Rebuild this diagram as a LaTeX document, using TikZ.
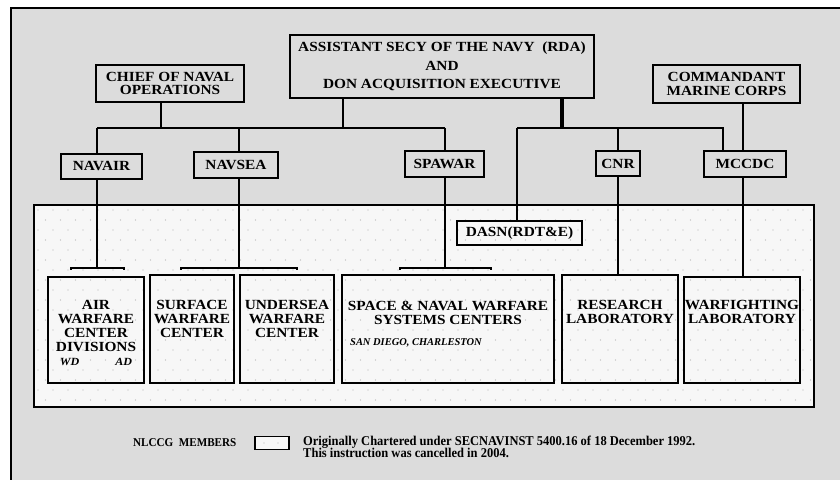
\documentclass[tikz,border=0pt]{standalone}
\usepackage{fontspec}
\setmainfont{Liberation Serif}
\newfontfamily\widefont{Liberation Serif}[FakeStretch=1.1]
\newfontfamily\narrowfont{Liberation Serif}[FakeStretch=0.93]
\definecolor{paneback}{HTML}{DCDCDC}
\definecolor{dotback}{HTML}{F7F7F7}
\definecolor{dotgray}{HTML}{B4B4B4}
\tikzset{
  orgbox/.style={draw, line width=1.6bp, fill=paneback, inner sep=0pt, align=center,
    font=\widefont\bfseries\fontsize{14}{13.5}\selectfont},
  labbox/.style={draw, line width=1.6bp, inner sep=0pt},
  labtext/.style={anchor=north, inner sep=0pt, align=center,
    font=\widefont\bfseries\fontsize{14}{14}\selectfont},
  link/.style={line width=1.4bp},
}

\begin{document}
\begin{tikzpicture}[x=1bp, y=-1bp]
        \useasboundingbox (0,0) rectangle (840,480);
        \clip (0,0) rectangle (840,480);
        \fill[white] (0,0) rectangle (840,480);
        \filldraw[fill=paneback, line width=2.2bp] (11,8) rectangle (860,500);
        % dotted member area
        \fill[dotback] (34,205) rectangle (814,407);
        \foreach \row in {0,...,19} {
            \foreach \col in {0,...,51} {
                \fill[dotgray] ({38+\col*15+mod(\row,2)*7.5}, {210+\row*10}) circle (0.7);
            }
        }
        \draw[line width=1.6bp] (34,205) rectangle (814,407);

        % top of the chart
        \node[orgbox, minimum width=304bp, minimum height=63bp] (asn) at (442,66.5)
            {ASSISTANT SECY OF THE NAVY~~(RDA)\\[5bp]AND\\[5bp]DON ACQUISITION EXECUTIVE};
        \node[orgbox, minimum width=148bp, minimum height=37bp] (cno) at (170,83.5) {CHIEF OF NAVAL\\OPERATIONS};
        \node[orgbox, minimum width=147bp, minimum height=38bp] (cmc) at (726.5,84) {COMMANDANT\\MARINE CORPS};
        \node[orgbox, minimum width=81bp, minimum height=25bp] (navair) at (101.5,166.5) {NAVAIR};
        \node[orgbox, minimum width=84bp, minimum height=26bp] (navsea) at (236,165) {NAVSEA};
        \node[orgbox, minimum width=79bp, minimum height=26bp] (spawar) at (444.5,164) {SPAWAR};
        \node[orgbox, minimum width=44bp, minimum height=25bp] (cnr) at (618,163.5) {CNR};
        \node[orgbox, minimum width=82bp, minimum height=26bp] (mccdc) at (745,164) {MCCDC};
        \node[orgbox, fill=none, minimum width=125bp, minimum height=24bp] (dasn) at (519.5,233) {DASN(RDT\&E)};

        % member boxes
        \node[labbox, minimum width=96bp, minimum height=106bp] (awc) at (96,330) {};
        \node[labbox, minimum width=84bp, minimum height=108bp] (swc) at (192,329) {};
        \node[labbox, minimum width=94bp, minimum height=108bp] (uwc) at (287,329) {};
        \node[labbox, minimum width=212bp, minimum height=108bp] (spc) at (448,329) {};
        \node[labbox, minimum width=116bp, minimum height=108bp] (rl) at (620,329) {};
        \node[labbox, minimum width=116bp, minimum height=106bp] (wfl) at (742,330) {};

        \node[labtext] (awcT) at ([yshift=-24bp]awc.north)
            {AIR\\WARFARE\\CENTER\\DIVISIONS\\{\itshape\fontsize{11}{14}\selectfont WD\hspace{36bp}AD}};
        \node[labtext] (swcT) at ([yshift=-26bp]swc.north) {SURFACE\\WARFARE\\CENTER};
        \node[labtext] (uwcT) at ([yshift=-26bp]uwc.north) {UNDERSEA\\WARFARE\\CENTER};
        \node[labtext] (spcT) at ([yshift=-27bp]spc.north) {SPACE \& NAVAL WARFARE\\SYSTEMS CENTERS};
        \node[anchor=west, inner sep=0pt, font=\bfseries\itshape\fontsize{10.5}{12}\selectfont] (spcSites) at (350,343)
            {SAN DIEGO, CHARLESTON};
        \node[labtext] (rlT) at ([yshift=-26bp]rl.north) {RESEARCH\\LABORATORY};
        \node[labtext] (wflT) at ([yshift=-24bp]wfl.north) {WARFIGHTING\\LABORATORY};

        % bus lines
        \coordinate (lbusL) at (97,128);
        \coordinate (lbusR) at (445,128);
        \coordinate (cnoStem) at (161,128);
        \coordinate (seaDrop) at (239,128);
        \coordinate (asnStemL) at (343,128);
        \coordinate (asnStemR) at (562,128);
        \coordinate (rbusL) at (517,128);
        \coordinate (rbusR) at (723,128);
        \coordinate (mcStem) at (743,128);
        \coordinate (airJ) at (97,268);
        \coordinate (seaJ) at (239,268);
        \coordinate (spaJ) at (445,268);

        \draw[link] (lbusL) -- (lbusR);
        \draw[link] (cnoStem |- cno.south) -- (cnoStem);
        \draw[link] (asnStemL |- asn.south) -- (asnStemL);
        \draw[link] (lbusL) -- (lbusL |- navair.north);
        \draw[link] (seaDrop) -- (seaDrop |- navsea.north);
        \draw[link] (lbusR) -- (lbusR |- spawar.north);
        \draw[link] (airJ |- navair.south) -- (airJ);
        \draw[link] (seaJ |- navsea.south) -- (seaJ);
        \draw[link] (spaJ |- spawar.south) -- (spaJ);
        \draw[link] (71,270) -- (71,268) -- (124,268) -- (124,270);
        \draw[link] (181,270) -- (181,268) -- (297,268) -- (297,270);
        \draw[link] (400,270) -- (400,268) -- (491,268) -- (491,270);

        \draw[line width=3.5bp] (asnStemR |- asn.south) -- (asnStemR);
        \draw[link] (rbusL) -- (rbusR) -- (rbusR |- mccdc.north);
        \draw[link] (rbusL) -- (rbusL |- dasn.north);
        \draw[link] (cnr.north |- rbusL) -- (cnr.north);
        \draw[link] (cnr.south) -- (cnr.south |- rl.north);
        \draw[link] (mcStem |- cmc.south) -- (mcStem |- mccdc.north);
        \draw[link] (mcStem |- mccdc.south) -- (mcStem |- wfl.north);

        % legend
        \node[anchor=west, inner sep=0pt, font=\narrowfont\bfseries\fontsize{12}{12}\selectfont] (legLabel) at (133,443) {NLCCG~~MEMBERS};
        \node[draw, line width=1.6bp, fill=dotback, minimum width=34bp, minimum height=13bp] (legBox) at (272,443) {};
        \fill[dotgray] ([xshift=-8bp]legBox.center) circle (0.7) ([xshift=6bp]legBox.center) circle (0.7);
        \node[anchor=west, inner sep=0pt, align=left, font=\narrowfont\bfseries\fontsize{13.5}{12.5}\selectfont] (legNote) at (303,447)
            {Originally Chartered under SECNAVINST 5400.16 of 18 December 1992.\\This instruction was cancelled in 2004.};
    \end{tikzpicture}
\end{document}
